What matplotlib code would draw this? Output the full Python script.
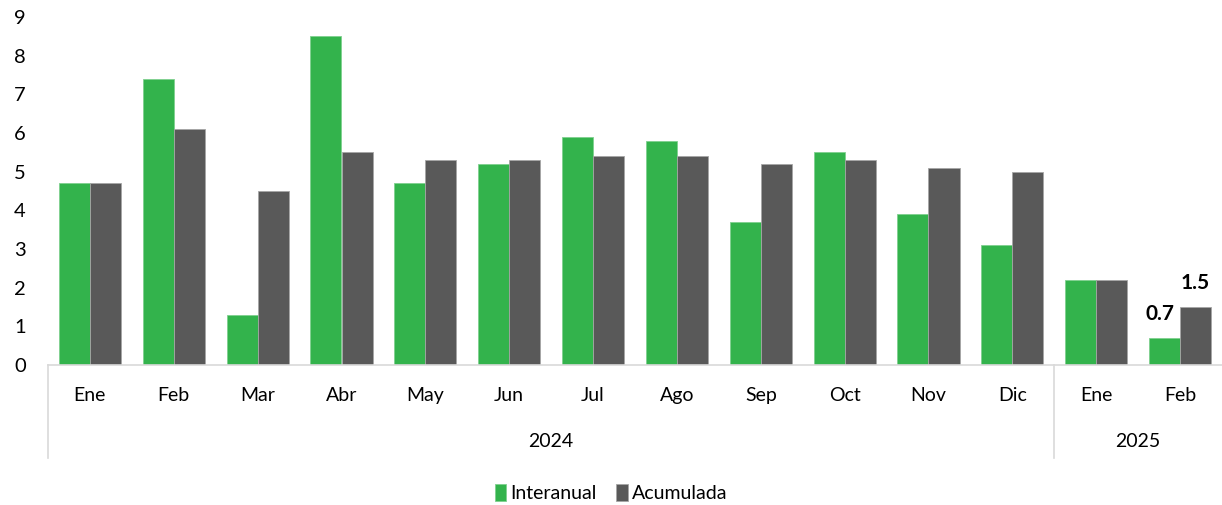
import matplotlib.pyplot as plt
import matplotlib.transforms as mtransforms
import numpy as np

plt.rcParams['font.family'] = ['Lato', 'DejaVu Sans']

months = ["Ene", "Feb", "Mar", "Abr", "May", "Jun", "Jul", "Ago", "Sep", "Oct", "Nov", "Dic", "Ene", "Feb"]
years = ["2024", "2025"]
year_spans = [(0, 11), (12, 13)]
interanual = [4.7, 7.4, 1.3, 8.5, 4.7, 5.2, 5.9, 5.8, 3.7, 5.5, 3.9, 3.1, 2.2, 0.7]
acumulada = [4.7, 6.1, 4.5, 5.5, 5.3, 5.3, 5.4, 5.4, 5.2, 5.3, 5.1, 5.0, 2.2, 1.5]

green = "#33B34C"
gray = "#595959"

fig = plt.figure(figsize=(12.22, 5.05), dpi=100)
ax = fig.add_axes([48 / 1222, 1 - 365 / 505, 1 - 48 / 1222, 348 / 505])

x = np.arange(len(months))
w = 0.37
ax.bar(x - w / 2, interanual, w, color=green, edgecolor="#7fd08f", linewidth=0.6, label="Interanual")
ax.bar(x + w / 2, acumulada, w, color=gray, edgecolor="#a6a6a6", linewidth=0.6, label="Acumulada")

# etiquetas del último mes
ax.annotate(f"{interanual[-1]:.1f}", (x[-1] - w / 2 - 0.05, interanual[-1]), xytext=(0, 10),
            textcoords="offset points", ha="center", va="bottom", fontsize=15, fontweight="bold")
ax.annotate(f"{acumulada[-1]:.1f}", (x[-1] + w / 2, acumulada[-1]), xytext=(0, 10),
            textcoords="offset points", ha="center", va="bottom", fontsize=15, fontweight="bold")

ax.set_xlim(-0.5, len(months) - 0.5)
ax.set_ylim(0, 9)
ax.set_yticks(range(10))
ax.set_xticks(x)
ax.set_xticklabels(months)
ax.tick_params(axis="y", length=0, pad=16, labelsize=14.5)
ax.tick_params(axis="x", length=0, pad=16, labelsize=14)

for s in ["top", "right", "left"]:
    ax.spines[s].set_visible(False)
ax.spines["bottom"].set_color("#d9d9d9")
ax.spines["bottom"].set_linewidth(1.2)

trans = mtransforms.blended_transform_factory(ax.transData, ax.transAxes)
for xs in [-0.5, 11.5]:
    ax.plot([xs, xs], [0, -0.267], color="#d9d9d9", lw=1.2, transform=trans, clip_on=False)

for yr, (a, b) in zip(years, year_spans):
    ax.text((a + b) / 2, -0.22, yr, transform=trans, ha="center", va="center", fontsize=14)

fig.legend(loc="center", bbox_to_anchor=(0.5, 1 - 493 / 505), ncol=2, frameon=False,
           fontsize=14, handlelength=0.6, handleheight=1.0, handletextpad=0.2, columnspacing=1.0)

fig.savefig("out.png", dpi=100)
